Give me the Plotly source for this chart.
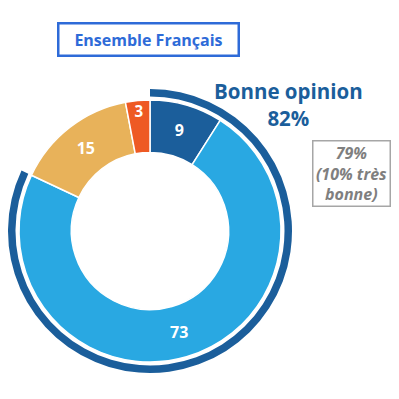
import plotly.graph_objects as go

labels = ["Très bonne opinion", "Plutôt bonne opinion", "Plutôt mauvaise opinion", "Très mauvaise opinion"]
values = [9, 73, 15, 3]
colors = ["#1B5E9B", "#29A8E2", "#E8B25A", "#EE5A24"]

ring_labels = ["Bonne opinion", "Autre"]
ring_values = [82, 18]

OFF = 8  # page body margin
W = H = 391

def px(x):
    return (x - OFF) / W

def py(y):
    return 1 - (y - OFF) / H

def dom(cx, cy, r):
    return dict(x=[max(0, px(cx - r)), px(cx + r)], y=[py(cy + r), py(cy - r)])

CX, CY = 150, 231
fig = go.Figure()
fig.add_trace(go.Pie(
    labels=ring_labels, values=ring_values, sort=False, direction="clockwise", rotation=0,
    hole=134.5 / 142, marker=dict(colors=["#1B5E9B", "rgba(0,0,0,0)"], line=dict(width=0)),
    textinfo="none", hoverinfo="skip", domain=dom(CX, CY, 142), showlegend=False,
))
fig.add_trace(go.Pie(
    labels=labels, values=values, sort=False, direction="clockwise", rotation=0,
    hole=0.6, marker=dict(colors=colors, line=dict(color="white", width=1.5)),
    texttemplate="<b>%{value}</b>", textposition="inside", insidetextorientation="horizontal",
    textfont=dict(color="white", size=16, family="Open Sans"),
    domain=dom(CX, CY, 131), showlegend=False,
))

fig.add_annotation(
    x=px(148), y=py(39.5), xref="paper", yref="paper", showarrow=False,
    xanchor="center", yanchor="middle",
    text="<b>Ensemble Français</b>", font=dict(color="#2E6BD8", size=16, family="Open Sans"),
    bordercolor="#2E6BD8", borderwidth=2.5, borderpad=5, width=168, height=20,
)
fig.add_annotation(
    x=px(288), y=py(104), xref="paper", yref="paper", showarrow=False,
    xanchor="center", yanchor="middle",
    text="<b>Bonne opinion<br>82%</b>", font=dict(color="#1B5E9B", size=20.5, family="Open Sans"),
    align="center",
)
fig.add_annotation(
    x=px(351.5), y=py(173.5), xref="paper", yref="paper", showarrow=False,
    xanchor="center", yanchor="middle",
    text="<b><i>79%<br>(10% très<br>bonne)</i></b>", font=dict(color="#7F7F7F", size=16, family="Open Sans"),
    align="center", bordercolor="#A6A6A6", borderwidth=1.5, borderpad=1, width=74, height=62,
)

fig.update_layout(
    width=W, height=H, margin=dict(l=0, r=0, t=0, b=0),
    paper_bgcolor="white", plot_bgcolor="white",
)
fig.write_html("out.html")
